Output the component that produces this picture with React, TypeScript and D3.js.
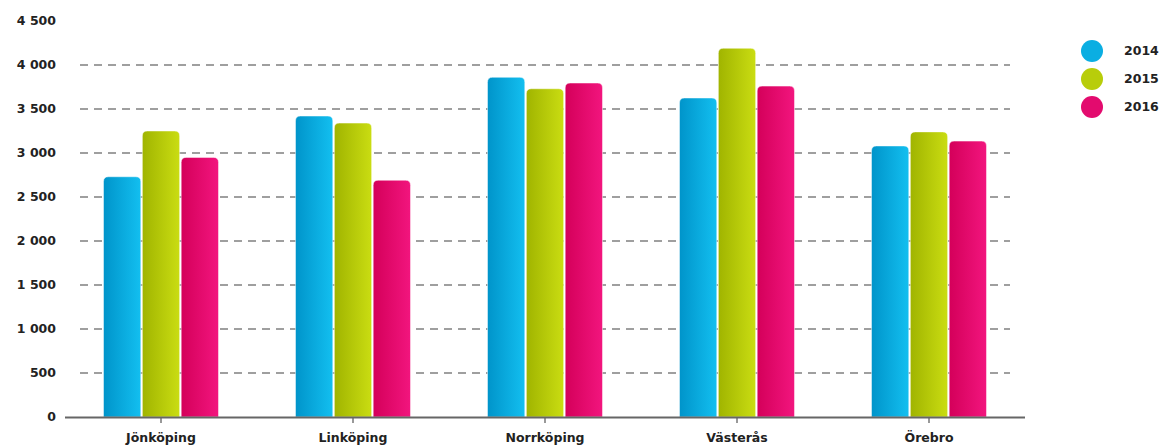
import React from "react";
import * as d3 from "d3";

const categories = ["Jönköping", "Linköping", "Norrköping", "Västerås", "Örebro"];
const seriesNames = ["2014", "2015", "2016"];
const values2014 = [2730, 3420, 3860, 3625, 3080];
const values2015 = [3250, 3340, 3730, 4190, 3240];
const values2016 = [2950, 2690, 3795, 3760, 3135];
const yTicks = [0, 500, 1000, 1500, 2000, 2500, 3000, 3500, 4000, 4500];

const gradients = [
  ["#0094ca", "#13bff0"],
  ["#a0b400", "#cadd12"],
  ["#d4005a", "#f2157e"],
];
const legendColors = ["#0aaee2", "#b8cd0a", "#e30b6e"];

const W = 1164;
const H = 448;

function roundTopRect(x: number, y: number, w: number, h: number, r: number) {
  const rr = Math.min(r, h, w / 2);
  return `M${x},${y + h}V${y + rr}Q${x},${y} ${x + rr},${y}H${x + w - rr}Q${x + w},${y} ${x + w},${y + rr}V${y + h}Z`;
}

export default function App() {
  const series = [values2014, values2015, values2016];
  const x0 = d3.scaleBand<string>().domain(categories).range([65, 1025]);
  const y = d3.scaleLinear().domain([0, 4000]).range([417, 65]);
  const groupW = 115;
  const x1 = d3
    .scaleBand<string>()
    .domain(seriesNames)
    .range([0, groupW])
    .paddingInner(0.04);
  const fmt = (v: number) => d3.format(",")(v).replace(/,/g, " ");
  const font = "'DejaVu Sans', Verdana, sans-serif";

  return (
    <svg width={W} height={H} style={{ position: "absolute", left: 0, top: 0 }}>
      <defs>
        {gradients.map((g, i) => (
          <linearGradient key={i} id={`grad${i}`} x1="0" x2="1" y1="0" y2="0">
            <stop offset="0%" stopColor={g[0]} />
            <stop offset="100%" stopColor={g[1]} />
          </linearGradient>
        ))}
      </defs>
      <rect width={W} height={H} fill="#fff" />
      {yTicks.map((t) => (
        <g key={t}>
          {t > 0 && t < 4500 && (
            <line
              x1={80}
              x2={1010}
              y1={y(t)}
              y2={y(t)}
              stroke="#808080"
              strokeWidth={1.5}
              strokeDasharray="8,6"
            />
          )}
          <text
            x={56}
            y={y(t)}
            dy="0.35em"
            textAnchor="end"
            fontFamily={font}
            fontWeight="bold"
            fontSize={12.5}
            fill="#222"
          >
            {fmt(t)}
          </text>
        </g>
      ))}
      {categories.map((c, ci) => {
        const cx = (x0(c) as number) + x0.bandwidth() / 2;
        const gx = cx - groupW / 2;
        return (
          <g key={c}>
            {series.map((s, si) => {
              const bx = gx + (x1(seriesNames[si]) as number);
              const by = y(s[ci]);
              const bw = x1.bandwidth();
              return (
                <path
                  key={si}
                  d={roundTopRect(bx, by, bw, y(0) - by, 5)}
                  fill={`url(#grad${si})`}
                  stroke="#ffffff"
                  strokeOpacity={0.6}
                  strokeWidth={0.8}
                />
              );
            })}
            <line x1={cx} x2={cx} y1={417} y2={423} stroke="#555" strokeWidth={1.2} />
            <text
              x={cx}
              y={438}
              dy="0.35em"
              textAnchor="middle"
              fontFamily={font}
              fontWeight="bold"
              fontSize={12.5}
              fill="#222"
            >
              {c}
            </text>
          </g>
        );
      })}
      <line x1={65} x2={1025} y1={417.5} y2={417.5} stroke="#666" strokeWidth={2} />
      {seriesNames.map((n, i) => (
        <g key={n}>
          <circle cx={1092} cy={51 + i * 28} r={11} fill={legendColors[i]} />
          <text
            x={1124}
            y={51 + i * 28}
            dy="0.35em"
            fontFamily={font}
            fontWeight="bold"
            fontSize={12.5}
            fill="#222"
          >
            {n}
          </text>
        </g>
      ))}
    </svg>
  );
}
